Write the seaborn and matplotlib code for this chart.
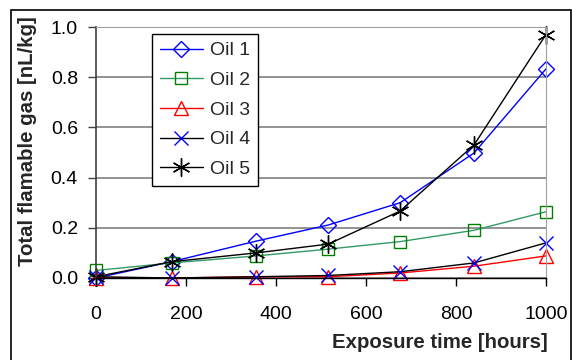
import matplotlib
matplotlib.use("Agg")
import matplotlib.pyplot as plt
import seaborn as sns
import numpy as np
from matplotlib.patches import Rectangle

sns.set_style("white")
plt.rcParams['font.family'] = ['Liberation Sans', 'DejaVu Sans']

# ====================== data ======================
hours = [0, 168, 356, 516, 676, 840, 1000]
oil1 = [0.00, 0.065, 0.147, 0.211, 0.300, 0.498, 0.833]
oil2 = [0.030, 0.060, 0.088, 0.115, 0.145, 0.190, 0.264]
oil3 = [0.000, 0.000, 0.005, 0.005, 0.020, 0.047, 0.088]
oil4 = [0.005, 0.000, 0.005, 0.010, 0.025, 0.060, 0.140]
oil5 = [0.005, 0.065, 0.100, 0.135, 0.267, 0.530, 0.970]
labels = ["Oil 1", "Oil 2", "Oil 3", "Oil 4", "Oil 5"]

# (line colour, marker, marker colour, marker size)
styles = [
    ("#0000FF", "D", "#0000FF", 8),
    ("#339966", "s", "#008000", 9),
    ("#FF0000", "^", "#FF0000", 10),
    ("#000000", "x", "#0000FF", 10),
    ("#000000", (6, 2, 0), "#000000", 13),
]

fig = plt.figure(figsize=(5.72, 3.6), dpi=100)
ax = fig.add_axes([96/572, 1-278/360, 450/572, 251/360])

for lab, vals, (lc, mk, mc, ms) in zip(labels, [oil1, oil2, oil3, oil4, oil5], styles):
    sns.lineplot(x=hours, y=vals, ax=ax, label=lab, color=lc, linewidth=1.0,
                 marker=mk, markersize=ms, markeredgecolor=mc, markerfacecolor="none",
                 markeredgewidth=1.0, clip_on=False)

ax.set_xlim(0, 1000)
ax.set_ylim(0, 1.0)
ax.set_xticks(np.arange(0, 1001, 200))
ax.set_yticks(np.arange(0, 1.01, 0.2))
ax.set_yticklabels([f"{v:.1f}" for v in np.arange(0, 1.01, 0.2)])
ax.tick_params(axis="both", direction="out", length=6, width=1, labelsize=14,
               labelcolor="black", left=True, bottom=True)
ax.tick_params(axis="y", pad=7, color="#404040")
ax.tick_params(axis="x", pad=14, color="black")

ax.yaxis.grid(True, color="#808080", linewidth=1.2)
ax.xaxis.grid(False)
ax.set_axisbelow(True)
ax.spines["left"].set_color("#404040")
ax.spines["left"].set_linewidth(1.2)
ax.spines["bottom"].set_color("black")
ax.spines["bottom"].set_linewidth(1.0)
ax.spines["right"].set_color("#A0A0A0")
ax.spines["top"].set_color("#A0A0A0")
ax.set_xlabel("")
ax.set_ylabel("")

leg = ax.legend(loc="upper left", bbox_to_anchor=((152-96)/450, (278-34)/251),
                fontsize=14, frameon=True, fancybox=False, edgecolor="black",
                framealpha=1, handlelength=2.2, labelspacing=0.62, borderpad=0.4,
                handletextpad=0.4, borderaxespad=0)
leg.get_frame().set_linewidth(1.0)

fig.text(28/572, 1-141/360, "Total flamable gas [nL/kg]", rotation=90,
         ha="center", va="center", fontsize=14.7, fontweight="bold")
fig.text(548/572, 1-343/360, "Exposure time [hours]", ha="right", va="center",
         fontsize=14.7, fontweight="bold")

# outer frame
fig.patches.append(Rectangle((11/572, -0.1), (571-11)/572, 1.1-10/360,
                             transform=fig.transFigure, fill=False,
                             edgecolor="black", linewidth=1.2))

fig.savefig("out.png", dpi=100)
